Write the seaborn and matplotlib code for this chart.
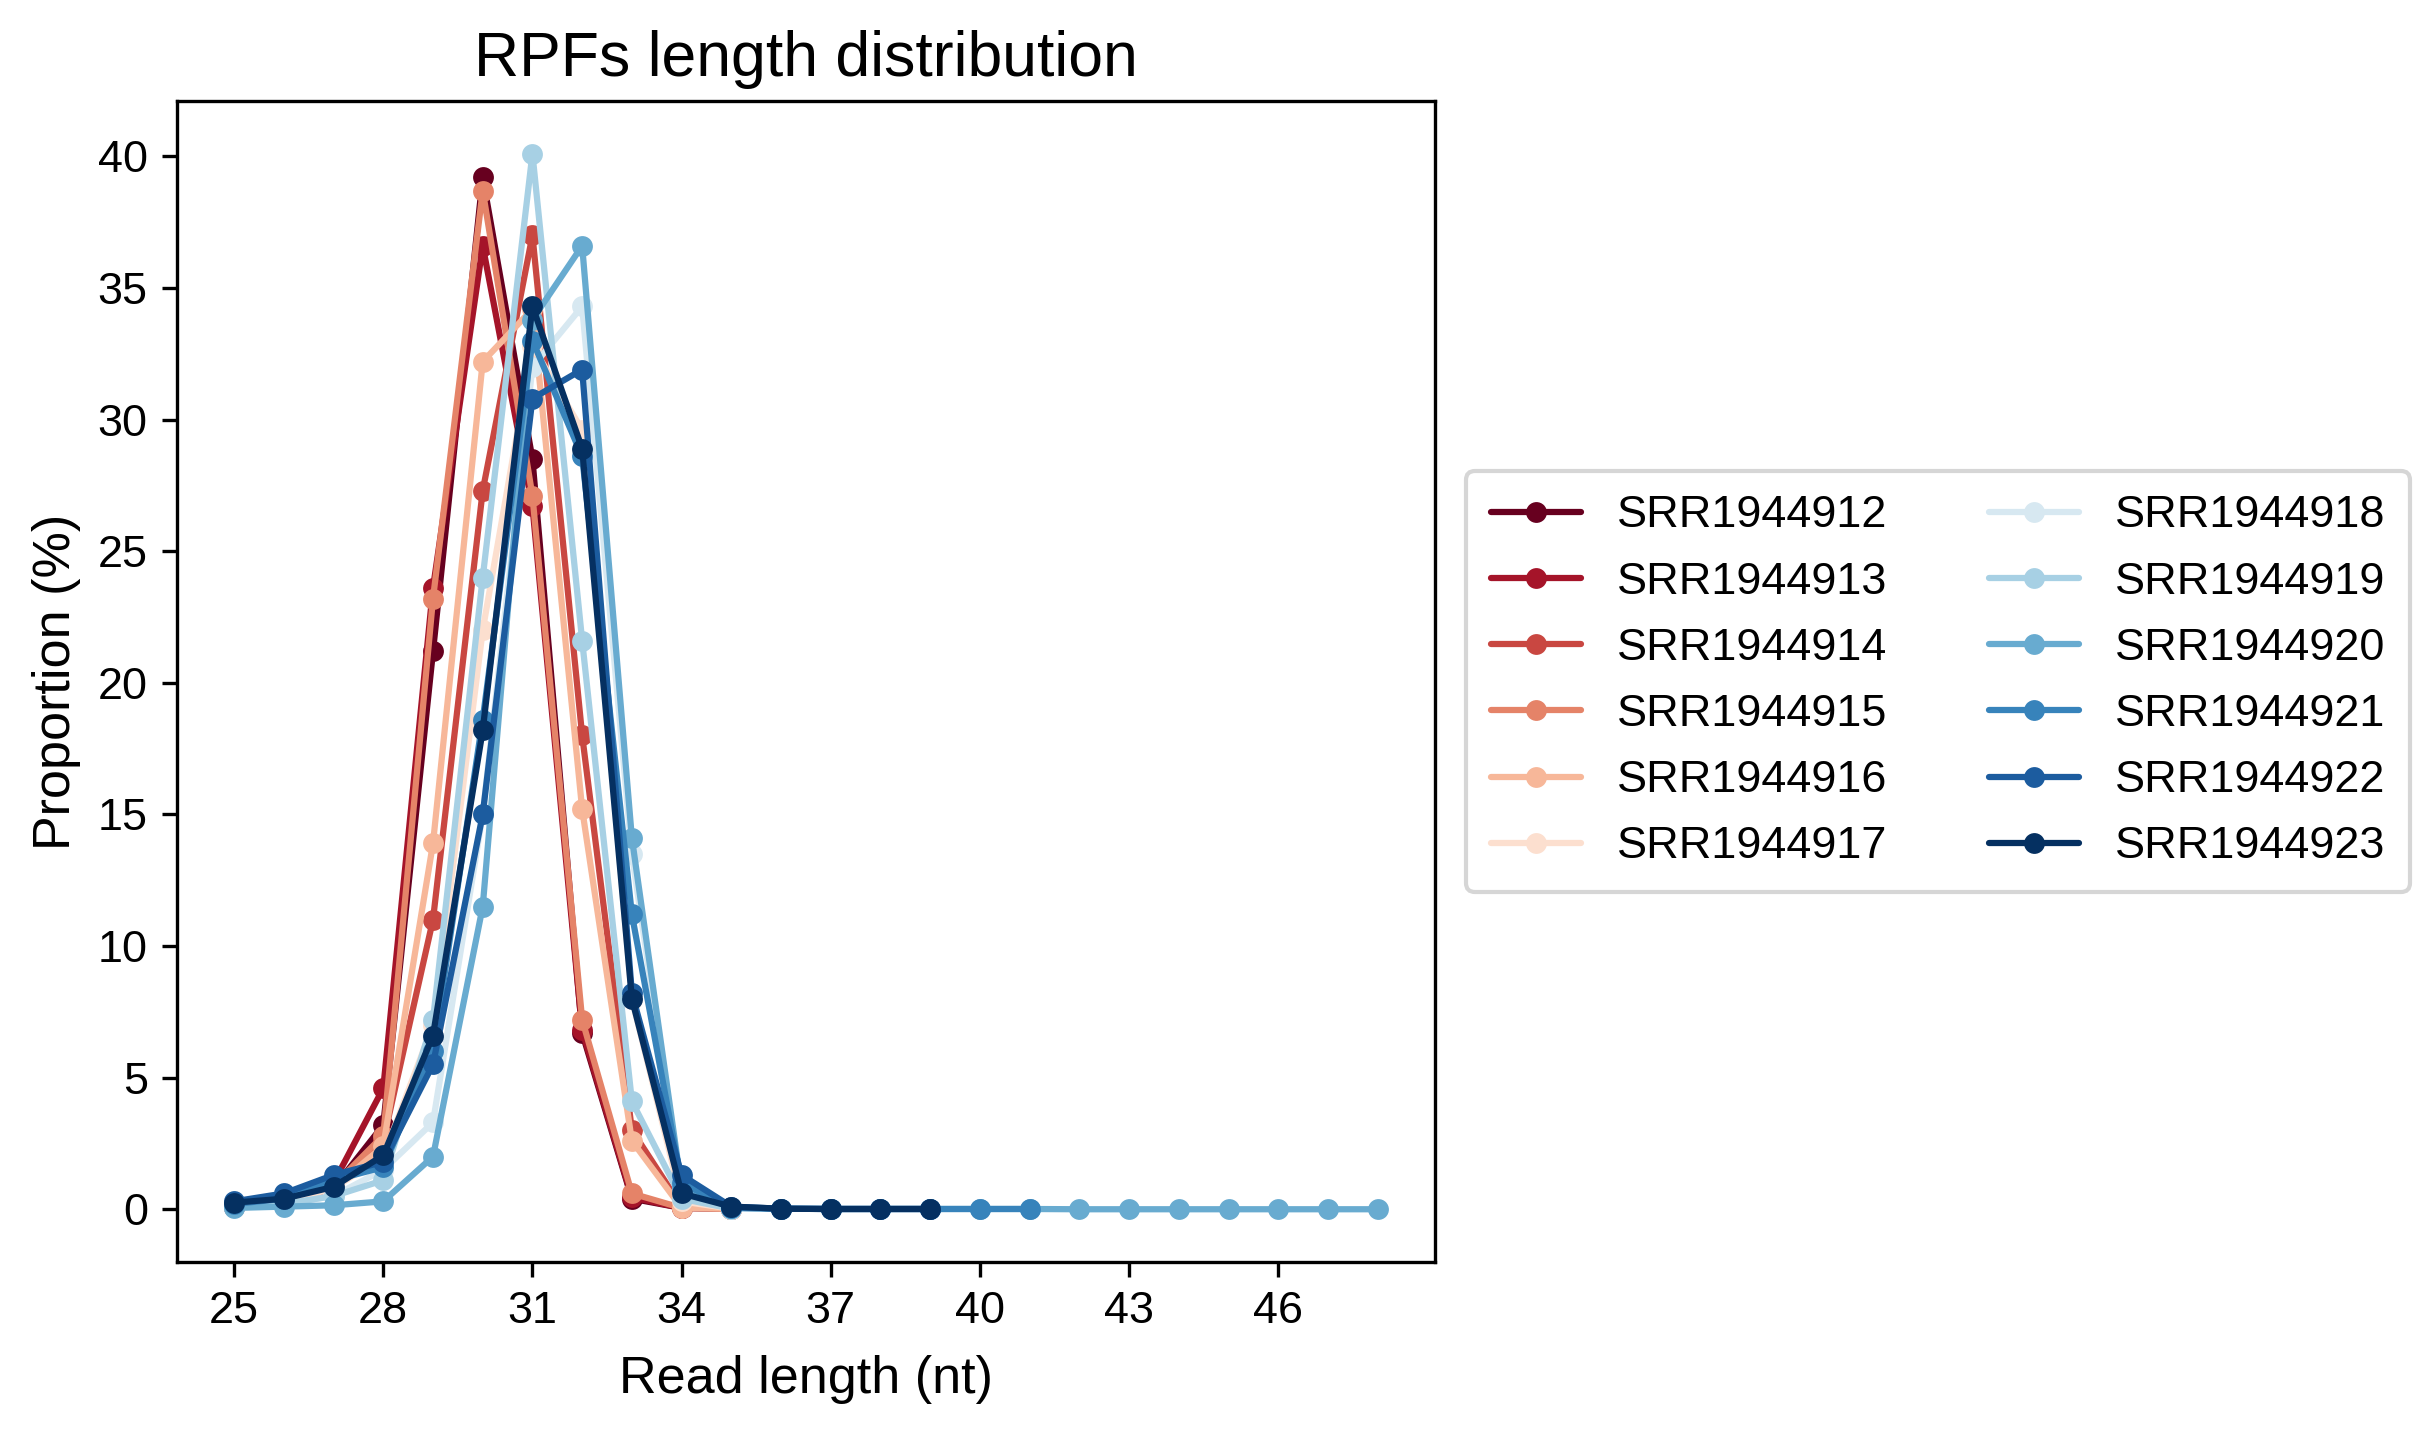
import numpy as np
import pandas as pd
import matplotlib
matplotlib.use("Agg")
import matplotlib.pyplot as plt
import seaborn as sns

# ---- data ----
samples = ["SRR1944912", "SRR1944913", "SRR1944914", "SRR1944915",
           "SRR1944916", "SRR1944917", "SRR1944918", "SRR1944919",
           "SRR1944920", "SRR1944921", "SRR1944922", "SRR1944923"]

len_short = [25, 26, 27, 28, 29, 30, 31, 32, 33, 34, 35]
len_39 = [25, 26, 27, 28, 29, 30, 31, 32, 33, 34, 35, 36, 37, 38, 39]
len_41 = len_39 + [40, 41]
len_48 = len_41 + [42, 43, 44, 45, 46, 47, 48]

srr912 = [0.1, 0.3, 0.8, 3.2, 21.2, 39.2, 28.5, 6.7, 0.4, 0.05, 0.02]
srr913 = [0.1, 0.35, 1.0, 4.6, 23.6, 36.6, 26.7, 6.8, 0.45, 0.05, 0.02]
srr914 = [0.1, 0.3, 0.8, 2.6, 11.0, 27.3, 37.0, 18.0, 3.0, 0.1, 0.02]
srr915 = [0.1, 0.3, 0.9, 2.8, 23.2, 38.7, 27.1, 7.2, 0.6, 0.05, 0.02]
srr916 = [0.1, 0.3, 0.8, 2.4, 13.9, 32.2, 34.2, 15.2, 2.6, 0.05, 0.02]
srr917 = [0.1, 0.3, 0.8, 2.0, 7.0, 22.0, 32.8, 29.6, 8.0, 0.3, 0.02]
srr918 = [0.1, 0.2, 0.5, 1.5, 3.3, 15.0, 32.0, 34.3, 13.5, 0.6, 0.02]
srr919 = [0.1, 0.2, 0.5, 1.1, 7.2, 24.0, 40.1, 21.6, 4.1, 0.4, 0.02]
srr920 = [0.05, 0.1, 0.15, 0.3, 2.0, 11.5, 33.8, 36.6, 14.1, 0.8, 0.05,
          0.02, 0.01, 0.01, 0.01, 0.01, 0.01, 0.0, 0.0, 0.0, 0.0, 0.0, 0.0, 0.0]
srr921 = [0.2, 0.4, 1.1, 1.6, 6.0, 18.6, 33.0, 28.6, 11.2, 1.0, 0.05,
          0.02, 0.01, 0.01, 0.01, 0.01, 0.01]
srr922 = [0.3, 0.6, 1.3, 1.8, 5.5, 15.0, 30.8, 31.9, 8.2, 1.3, 0.1,
          0.02, 0.01, 0.01, 0.01]
srr923 = [0.25, 0.4, 0.85, 2.05, 6.6, 18.2, 34.3, 28.9, 8.0, 0.6, 0.1,
          0.02, 0.01, 0.01, 0.01]

values = [srr912, srr913, srr914, srr915, srr916, srr917,
          srr918, srr919, srr920, srr921, srr922, srr923]
lengths = [len_short] * 8 + [len_48, len_41, len_39, len_39]

rows = []
for s, xs, ys in zip(samples, lengths, values):
    for x, y in zip(xs, ys):
        rows.append({"Read length (nt)": x, "Proportion (%)": y, "Sample": s})
df = pd.DataFrame(rows)

# ---- style ----
sns.set_style("white")
plt.rcParams["font.family"] = ["Liberation Sans", "DejaVu Sans"]
plt.rcParams["axes.edgecolor"] = "black"
plt.rcParams["axes.linewidth"] = 0.8
plt.rcParams["xtick.bottom"] = True
plt.rcParams["ytick.left"] = True
plt.rcParams["xtick.color"] = "black"
plt.rcParams["ytick.color"] = "black"
plt.rcParams["text.color"] = "black"
plt.rcParams["axes.labelcolor"] = "black"

fig = plt.figure(figsize=(2434 / 300, 1432 / 300), dpi=300)
ax = fig.add_axes([0.0727, 0.1187, 0.5895 - 0.0727, 0.9295 - 0.1187])

# RdBu sampled at 13 points with the white centre dropped
cmap = plt.get_cmap("RdBu")
stops = np.linspace(0, 1, len(samples) + 1)
stops = np.delete(stops, len(samples) // 2)
palette = [cmap(v) for v in stops]
sns.lineplot(data=df, x="Read length (nt)", y="Proportion (%)", hue="Sample",
             hue_order=samples, palette=palette, marker="o", markersize=5,
             markeredgewidth=0, linewidth=1.5, ax=ax, sort=True,
             errorbar=None)

ax.set_xticks([25, 28, 31, 34, 37, 40, 43, 46])
ax.set_yticks([0, 5, 10, 15, 20, 25, 30, 35, 40])
ax.tick_params(axis="both", labelsize=10.8, length=3.5, width=0.8,
               direction="out")
ax.set_xlabel("Read length (nt)", fontsize=12.5, labelpad=5.5)
ax.set_ylabel("Proportion (%)", fontsize=12.5)
ax.set_title("RPFs length distribution", fontsize=15)
for sp in ax.spines.values():
    sp.set_visible(True)
    sp.set_color("black")

sns.move_legend(ax, "center left", bbox_to_anchor=(1.007, 0.5), ncol=2,
                title=None, frameon=True, fontsize=10.8,
                labelspacing=0.56, borderpad=0.55, columnspacing=2.25)

fig.savefig("out.png", dpi=300)
